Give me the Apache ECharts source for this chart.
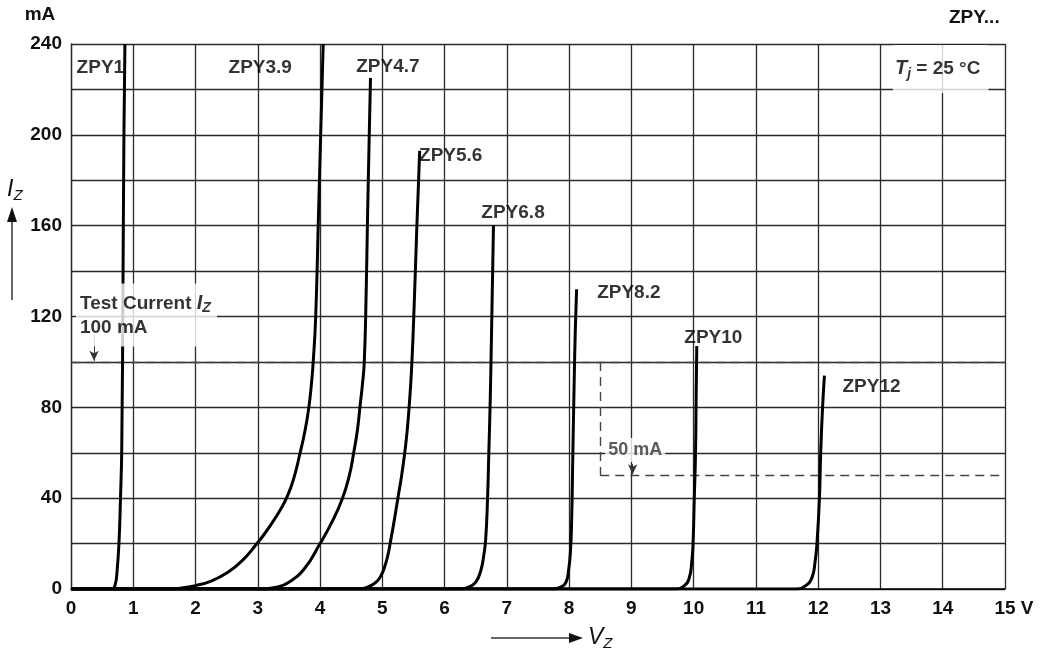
<!DOCTYPE html>
<html><head><meta charset="utf-8">
<script src="https://cdn.jsdelivr.net/npm/echarts@6/dist/echarts.min.js"></script>
<style>html,body{margin:0;padding:0;background:#fff}#c{width:1040px;height:659px}</style>
</head><body><div id="c"></div>
<script>
// ---- data (V_Z in volts, I_Z in mA) ----
const xMin = 0, xMax = 15, xStep = 1;
const yMin = 0, yMax = 240, yStep = 20, yLabelStep = 40;
const testCurrent = 100;      // mA
const smallCurrent = 50;      // mA
const smallCurrentV = 8.5;    // V, start of the 50 mA box
const zpy1  = [[0,0],[0.66,0],[0.71,2],[0.74,8],[0.77,20],[0.795,40],[0.815,62],[0.835,135],[0.85,200],[0.866,240]];
const zpy39 = [[0,0],[1.5,0],[1.8,0.5],[2.0,1.5],[2.25,3.5],[2.5,7],[2.75,12.5],[3.0,20.5],[3.1,24],[3.25,30],[3.36,34.8],[3.46,40],[3.57,48],[3.68,60],[3.76,70],[3.82,80],[3.86,90],[3.89,100],[3.93,120],[3.97,160],[4.01,200],[4.05,240]];
const zpy47 = [[0,0],[3.05,0],[3.3,0.8],[3.5,3],[3.75,9],[4.0,20],[4.2,30],[4.36,40],[4.47,50],[4.54,60],[4.6,70],[4.64,80],[4.68,90],[4.71,100],[4.74,130],[4.76,160],[4.79,200],[4.81,225]];
const zpy56 = [[0,0],[4.6,0],[4.78,1],[4.9,3],[4.98,6],[5.04,10],[5.09,15],[5.125,20],[5.19,30],[5.25,40],[5.31,50],[5.36,60],[5.4,70],[5.43,80],[5.455,90],[5.475,100],[5.505,120],[5.555,160],[5.6,193]];
const zpy68 = [[0,0],[6.2,0],[6.4,1],[6.5,3],[6.58,8],[6.63,15],[6.66,22],[6.69,40],[6.71,60],[6.73,80],[6.745,100],[6.765,130],[6.785,160]];
const zpy82 = [[0,0],[7.7,0],[7.88,1],[7.95,3],[7.99,8],[8.02,16],[8.04,30],[8.06,60],[8.08,90],[8.1,115],[8.12,132]];
const zpy10 = [[0,0],[9.7,0],[9.85,1.5],[9.93,5],[9.97,12],[9.99,20],[10.01,40],[10.03,60],[10.04,85],[10.05,107]];
const zpy12 = [[0,0],[11.65,0],[11.8,1.5],[11.9,5],[11.95,12],[11.98,20],[12.02,40],[12.04,60],[12.07,80],[12.1,94]];
const curveNames = ['ZPY1','ZPY3.9','ZPY4.7','ZPY5.6','ZPY6.8','ZPY8.2','ZPY10','ZPY12'];
// label anchors in data units (V, mA)
const labelAnchors = [[0.09,229.5],[2.53,229.5],[4.58,230],[5.59,191],[6.59,165.6],[8.45,130.4],[9.85,110.6],[12.39,89]];

const FONT = 'Liberation Sans';
const curves = [zpy1, zpy39, zpy47, zpy56, zpy68, zpy82, zpy10, zpy12];

const chart = echarts.init(document.getElementById('c'), null, {renderer:'canvas'});
const series = curves.map((d, i) => ({
  name: curveNames[i], type: 'line', data: d, showSymbol: false, smooth: 0.5,
  lineStyle: {color: '#000', width: 3}, z: 5, silent: true
}));
series.push({
  type: 'scatter', symbolSize: 0, z: 10, silent: true,
  data: labelAnchors.map((p, i) => ({value: p, name: curveNames[i]})),
  label: {show: true, position: 'right', distance: 0, formatter: p => p.name,
    fontFamily: FONT, fontWeight: 'bold', fontSize: 19, color: '#000'}
});
// annotation labels
series.push({
  type: 'scatter', symbolSize: 0, z: 12, silent: true,
  data: [
    {value: [0.08, 120.7], label: {formatter: '{t|Test Current }{i|I}{s|Z}\n{t|100 mA}', padding: [8, 6, 7, 4]}},
    {value: [13.2, 229], label: {formatter: '{i|T}{s|j}{t| = 25 °C}', padding: [12, 8, 12, 2]}},
    {value: [8.58, 61.2], label: {formatter: '{g|50 mA}', padding: [2, 3, 2, 3]}}
  ],
  label: {show: true, position: 'right', distance: 0, backgroundColor: '#fff',
    rich: {
      t: {fontFamily: FONT, fontWeight: 'bold', fontSize: 19, color: '#000', lineHeight: 24},
      g: {fontFamily: FONT, fontWeight: 'bold', fontSize: 18, color: '#333', lineHeight: 20},
      i: {fontFamily: FONT, fontWeight: 'bold', fontStyle: 'italic', fontSize: 20, color: '#000', lineHeight: 24},
      s: {fontFamily: FONT, fontWeight: 'bold', fontStyle: 'italic', fontSize: 14, color: '#000', lineHeight: 24, padding: [10, 0, 0, 0]}
    }}
});
// reference dashed lines and arrows
series.push({
  type: 'line', data: [], silent: true, z: 4,
  markLine: {silent: true, symbol: 'none', animation: false,
    lineStyle: {type: [9, 6], color: '#444', width: 1.4},
    label: {show: false},
    data: [
      [{coord: [xMin, testCurrent]}, {coord: [xMax, testCurrent]}],
      [{coord: [smallCurrentV, smallCurrent]}, {coord: [xMax, smallCurrent]}],
      [{coord: [smallCurrentV, testCurrent]}, {coord: [smallCurrentV, smallCurrent]}]
    ]}
});
series.push({
  type: 'line', data: [], silent: true, z: 4,
  markLine: {silent: true, symbol: ['none', 'arrow'], symbolSize: [7, 10], animation: false,
    lineStyle: {type: 'solid', color: '#333', width: 1},
    label: {show: false},
    data: [
      [{coord: [0.37, 112]}, {coord: [0.37, testCurrent + 0.5]}],
      [{coord: [9.02, 55]}, {coord: [9.02, smallCurrent + 0.5]}]
    ]}
});

const option = {
  animation: false,
  backgroundColor: '#fff',
  grid: {left: 71, right: 35, top: 44, bottom: 70, containLabel: false},
  xAxis: {type: 'value', min: xMin, max: xMax, interval: xStep,
    axisLine: {show: true, lineStyle: {color: '#000', width: 1.5}},
    axisTick: {show: false},
    splitLine: {show: true, lineStyle: {color: '#2a2a2a', width: 1.3}},
    axisLabel: {margin: 10, fontFamily: FONT, fontWeight: 'bold', fontSize: 19, color: '#111',
      formatter: v => v === xMax ? '{p|}{n|' + v + '}{n| V}' : '' + v,
      rich: {p: {width: 18}, n: {fontFamily: FONT, fontWeight: 'bold', fontSize: 19, color: '#111'}}}
  },
  yAxis: {type: 'value', min: yMin, max: yMax, interval: yStep,
    name: 'mA', nameLocation: 'end', nameGap: 20,
    nameTextStyle: {fontFamily: FONT, fontWeight: 'bold', fontSize: 19, color: '#111', padding: [0, 62, 0, 0]},
    axisLine: {show: true, lineStyle: {color: '#2a2a2a', width: 1.3}},
    axisTick: {show: false},
    splitLine: {show: true, lineStyle: {color: '#2a2a2a', width: 1.3}},
    axisLabel: {margin: 9, fontFamily: FONT, fontWeight: 'bold', fontSize: 19, color: '#111',
      formatter: v => (v % yLabelStep === 0 ? '' + v : '')}
  },
  graphic: [
    {type: 'text', left: 949, top: 8, style: {text: 'ZPY...', font: 'bold 19px "Liberation Sans"', fill: '#111'}},
    {type: 'text', left: 7, top: 176, style: {text: '{i|I}{s|Z}', rich: {
      i: {fontFamily: FONT, fontStyle: 'italic', fontSize: 23, fill: '#111', lineHeight: 26},
      s: {fontFamily: FONT, fontStyle: 'italic', fontSize: 15, fill: '#111', lineHeight: 26, padding: [12, 0, 0, 0]}}}},
    {type: 'line', shape: {x1: 12, y1: 300, x2: 12, y2: 218}, style: {stroke: '#333', lineWidth: 1.5}},
    {type: 'polygon', shape: {points: [[7, 222], [12, 207], [17, 222]]}, style: {fill: '#111'}},
    {type: 'line', shape: {x1: 491, y1: 638, x2: 572, y2: 638}, style: {stroke: '#333', lineWidth: 1.5}},
    {type: 'polygon', shape: {points: [[569, 633], [583, 638], [569, 643]]}, style: {fill: '#111'}},
    {type: 'text', left: 588, top: 624, style: {text: '{i|V}{s|Z}', rich: {
      i: {fontFamily: FONT, fontStyle: 'italic', fontSize: 23, fill: '#111', lineHeight: 26},
      s: {fontFamily: FONT, fontStyle: 'italic', fontSize: 15, fill: '#111', lineHeight: 26, padding: [12, 0, 0, 0]}}}}
  ],
  series: series
};
chart.setOption(option);
</script></body></html>
